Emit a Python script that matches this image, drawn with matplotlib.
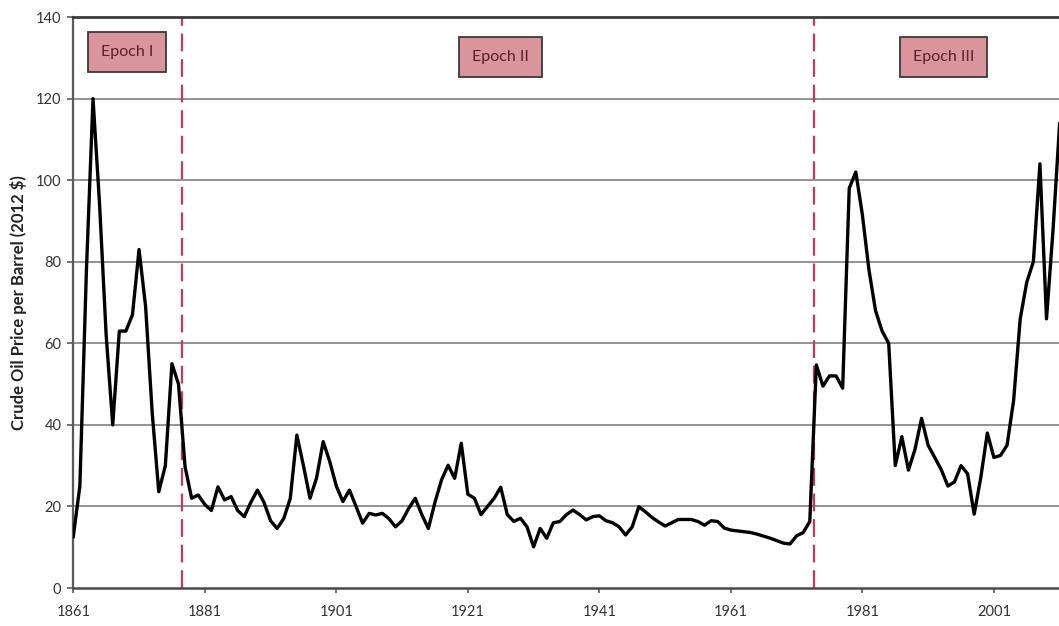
import matplotlib.pyplot as plt
from matplotlib.ticker import FixedLocator

# ---- Data: annual crude oil price per barrel (2012 $) ----
years = list(range(1861, 2013))
prices = [
    12.6, 25, 78, 120, 94, 62, 40, 63, 63, 67,            # 1861-1870
    83, 69, 43, 23.6, 30, 55, 50, 29.7, 22, 22.8,         # 1871-1880
    20.5, 19, 24.8, 21.6, 22.4, 19, 17.5, 21, 24, 21,     # 1881-1890
    16.5, 14.6, 17, 22, 37.5, 30, 22, 27, 35.9, 31,       # 1891-1900
    25, 21.2, 24, 20, 15.9, 18.3, 17.9, 18.3, 17, 15,     # 1901-1910
    16.5, 19.5, 22, 18, 14.6, 21, 26.5, 30.1, 26.9, 35.5, # 1911-1920
    23, 22, 18, 20, 22, 24.7, 18, 16.3, 17.1, 15,         # 1921-1930
    10.1, 14.6, 12.2, 16, 16.3, 18, 19.1, 18, 16.7, 17.5, # 1931-1940
    17.7, 16.5, 16, 15, 13, 15, 19.9, 18.7, 17.3, 16.2,   # 1941-1950
    15.2, 16, 16.8, 16.8, 16.8, 16.3, 15.4, 16.5, 16.3, 14.7,  # 1951-1960
    14.2, 14, 13.8, 13.6, 13.2, 12.7, 12.2, 11.6, 11, 10.8,    # 1961-1970
    12.8, 13.6, 16.3, 54.7, 49.5, 52, 52, 49, 98, 102,    # 1971-1980
    91.5, 78, 68, 63, 60, 30, 37.1, 28.9, 34, 41.6,       # 1981-1990
    35, 32, 29, 25, 26, 30, 28, 18.1, 27, 38,             # 1991-2000
    32, 32.5, 35, 46, 66, 75, 80, 104, 66, 88,            # 2001-2010
    114, 112,                                             # 2011-2012
]

# epoch boundaries (dashed lines) and epoch labels
epoch_bounds = [1877.6, 1973.6]
epoch_labels = ["Epoch I", "Epoch II", "Epoch III"]
epoch_label_x = [1869.2, 1926.0, 1993.3]
epoch_label_y = [131.4, 130.2, 130.2]

xtick_years = [1861, 1881, 1901, 1921, 1941, 1961, 1981, 2001]
yticks = [0, 20, 40, 60, 80, 100, 120, 140]

# ---- Plot -------------------------------------------------------------------
plt.rcParams.update({"font.family": ["Lato", "DejaVu Sans"]})
fig = plt.figure(figsize=(10.59, 6.26), dpi=100)
ax = fig.add_axes([0.0692, 0.0607, 0.9308, 0.9121])

# horizontal gridlines
for y in yticks[1:-1]:
    ax.axhline(y, color="#8a8a8a", linewidth=1.3, zorder=1)

ax.plot(years, prices, color="black", linewidth=2.4,
        solid_joinstyle="round", zorder=3)

for xb in epoch_bounds:
    ax.axvline(xb, color="#c8385e", linewidth=1.6, linestyle=(0, (8, 3.5)),
               zorder=2)

for lab, lx, ly in zip(epoch_labels, epoch_label_x, epoch_label_y):
    ax.text(lx, ly, lab, ha="center", va="center", fontsize=11.5,
            color="#5c1f24", zorder=4,
            bbox=dict(boxstyle="square,pad=0.8", facecolor="#d9959b",
                      edgecolor="#3a3a3a", linewidth=1.3))

ax.set_xlim(1861, 2010.9)
ax.set_ylim(0, 140)
ax.xaxis.set_major_locator(FixedLocator(xtick_years))
ax.yaxis.set_major_locator(FixedLocator(yticks))
ax.tick_params(axis="both", direction="out", labelsize=10.5,
               colors="#595959", labelcolor="#333333")
ax.tick_params(axis="y", length=4.5, width=1.2, pad=4)
ax.tick_params(axis="x", length=3.5, width=1.2, pad=9)

ax.set_ylabel("Crude Oil Price per Barrel (2012 $)", fontsize=12,
              fontweight="bold", color="#222222")
ax.yaxis.set_label_coords(-0.047, 0.5)

ax.spines["right"].set_visible(False)
ax.spines["top"].set_color("#3c3c3c")
ax.spines["top"].set_linewidth(2.0)
ax.spines["left"].set_color("#5a5a5a")
ax.spines["left"].set_linewidth(1.6)
ax.spines["bottom"].set_color("#4a4a4a")
ax.spines["bottom"].set_linewidth(1.8)

fig.savefig("out.png", dpi=100)
